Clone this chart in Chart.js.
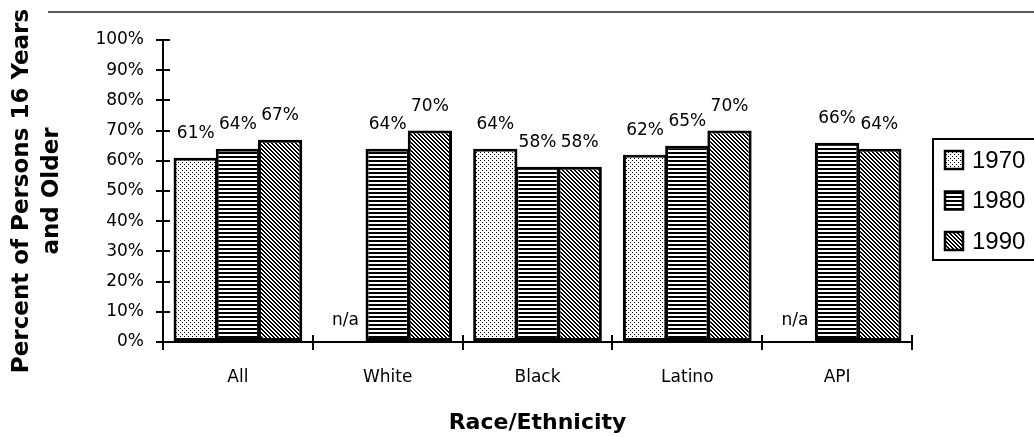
<!DOCTYPE html>
<html><head><meta charset="utf-8">
<script src="https://cdn.jsdelivr.net/npm/chart.js@4.4.1/dist/chart.umd.min.js"></script>
<style>html,body{margin:0;padding:0;background:#fff}#wrap{width:1034px;height:437px;position:relative}</style>
</head><body><div id="wrap"><canvas id="c" width="1034" height="437"></canvas></div>
<script>
// ---- data ----
const categories = ['All', 'White', 'Black', 'Latino', 'API'];
const seriesNames = ['1970', '1980', '1990'];
const values1970 = [61, null, 64, 62, null];
const values1980 = [64, 64, 58, 65, 66];
const values1990 = [67, 70, 58, 70, 64];
const yTickValues = [0, 10, 20, 30, 40, 50, 60, 70, 80, 90, 100];
const missingLabel = 'n/a';
const yTitle = ['Percent of Persons 16 Years', 'and Older'];
const xTitle = 'Race/Ethnicity';

const canvas = document.getElementById('c');
const mainCtx = canvas.getContext('2d');

function makePattern(kind) {
  const t = document.createElement('canvas');
  const s = 4; t.width = s; t.height = s;
  const g = t.getContext('2d');
  g.fillStyle = '#fff'; g.fillRect(0, 0, s, s);
  g.fillStyle = '#000';
  if (kind === 'dots') { g.fillRect(0, 0, 1, 1); g.fillRect(2, 2, 1, 1); }
  else if (kind === 'hlines') { g.fillRect(0, 0, s, 2); }
  else if (kind === 'diag') {
    for (let x = 0; x < s; x++) for (let y = 0; y < s; y++) {
      if ((((x - y) % 4) + 4) % 4 < 2) g.fillRect(x, y, 1, 1);
    }
  }
  return mainCtx.createPattern(t, 'repeat');
}
const fills = [makePattern('dots'), makePattern('hlines'), makePattern('diag')];
const seriesValues = [values1970, values1980, values1990];

const NUM_FONT = '17px "DejaVu Sans"';

const valueLabels = {
  id: 'valueLabels',
  afterDatasetsDraw(chart) {
    const ctx = chart.ctx, ys = chart.scales.y;
    ctx.save();
    ctx.font = NUM_FONT; ctx.fillStyle = '#000';
    ctx.textAlign = 'center'; ctx.textBaseline = 'middle';
    chart.data.datasets.forEach((ds, di) => {
      const meta = chart.getDatasetMeta(di);
      meta.data.forEach((bar, i) => {
        const v = ds.data[i];
        if (v == null) ctx.fillText(missingLabel, bar.x, ys.getPixelForValue(0) - 21);
        else ctx.fillText(v + '%', bar.x, bar.y - 24);
      });
    });
    ctx.restore();
  }
};

const decorations = {
  id: 'decorations',
  beforeDraw(chart) {
    const ctx = chart.ctx;
    ctx.save();
    ctx.strokeStyle = '#222'; ctx.lineWidth = 1.5;
    ctx.beginPath(); ctx.moveTo(48, 12); ctx.lineTo(chart.width, 12); ctx.stroke();
    ctx.restore();
  },
  afterDraw(chart) {
    const ctx = chart.ctx, a = chart.chartArea, ys = chart.scales.y;
    ctx.save();
    ctx.strokeStyle = '#000'; ctx.lineWidth = 2;
    ctx.beginPath();
    ys.ticks.forEach(t => { const py = Math.round(ys.getPixelForValue(t.value)); ctx.moveTo(a.left, py); ctx.lineTo(a.left + 7, py); });
    const n = categories.length;
    for (let i = 0; i <= n; i++) {
      const px = Math.round(a.left + (a.right - a.left) * i / n);
      ctx.moveTo(px, a.bottom); ctx.lineTo(px, a.bottom - 7);
    }
    ctx.stroke();
    // legend
    const left = a.right + 21, top = a.top + 99, h = 121;
    ctx.lineWidth = 2;
    ctx.strokeRect(left, top, chart.width - left + 10, h);
    ctx.font = '24px "Liberation Sans"';
    ctx.textAlign = 'left'; ctx.textBaseline = 'middle'; ctx.fillStyle = '#000';
    chart.data.datasets.forEach((ds, i) => {
      const cy = top + 21 + i * 40.5;
      ctx.fillStyle = ds.backgroundColor;
      ctx.fillRect(left + 12, cy - 9, 18, 18);
      ctx.strokeStyle = '#000'; ctx.lineWidth = 2.5;
      ctx.strokeRect(left + 12, cy - 9, 18, 18);
      ctx.fillStyle = '#000';
      ctx.fillText(ds.label, left + 39, cy + 1);
    });
    ctx.restore();
  }
};

new Chart(canvas, {
  type: 'bar',
  data: {
    labels: categories,
    datasets: seriesNames.map((name, i) => ({
      label: name,
      data: seriesValues[i],
      backgroundColor: fills[i],
      borderColor: '#000',
      borderWidth: 3,
      borderSkipped: false,
      categoryPercentage: 0.845,
      barPercentage: 1.05
    }))
  },
  options: {
    responsive: false,
    animation: false,
    devicePixelRatio: 1,
    layout: { padding: { top: 40, right: 122, bottom: 0, left: 0 } },
    plugins: { legend: { display: false }, tooltip: { enabled: false } },
    scales: {
      x: {
        grid: { display: true, drawOnChartArea: false, drawTicks: true, tickLength: 8, color: '#000', lineWidth: 2, offset: true },
        border: { display: true, color: '#000', width: 2 },
        ticks: { font: { family: 'DejaVu Sans', size: 17 }, color: '#000', padding: 17, maxRotation: 0, autoSkip: false },
        title: { display: true, text: xTitle, color: '#000', font: { family: 'DejaVu Sans', size: 22, weight: 'bold' }, padding: { top: 0, bottom: 1 } },
        afterFit(s) { s.height = 95; }
      },
      y: {
        min: 0, max: 100,
        afterBuildTicks(s) { s.ticks = yTickValues.map(v => ({ value: v })); },
        grid: { display: true, drawOnChartArea: false, drawTicks: true, tickLength: 7, color: '#000', lineWidth: 2 },
        border: { display: true, color: '#000', width: 2 },
        ticks: { font: { family: 'DejaVu Sans', size: 17 }, color: '#000', padding: 12, callback: v => v + '%' },
        title: { display: true, text: yTitle, color: '#000', font: { family: 'DejaVu Sans', size: 23, weight: 'bold', lineHeight: 1.3 }, padding: { top: 7, bottom: 0 } },
        afterFit(s) { s.width = 163; }
      }
    }
  },
  plugins: [valueLabels, decorations]
});
</script>
</body></html>
